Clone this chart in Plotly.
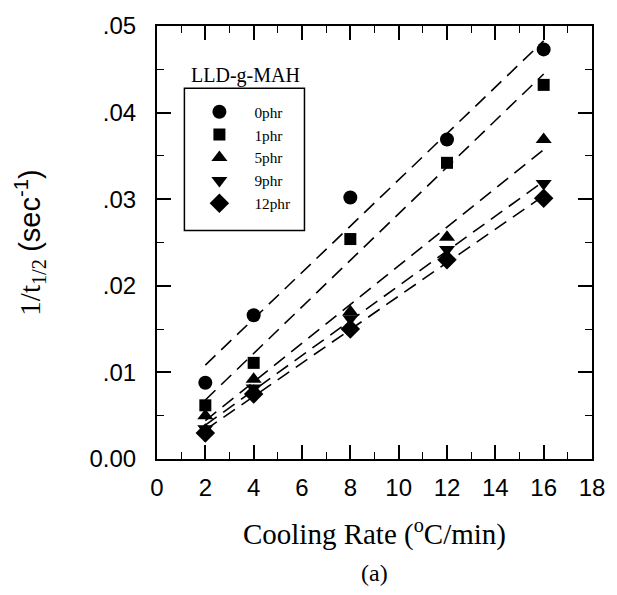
import numpy as np
import plotly.graph_objects as go

# Cooling rate (°C/min) and reciprocal half-time of crystallization (1/s)
cooling_rate = [2, 4, 8, 12, 16]
series_names = ["0phr", "1phr", "5phr", "9phr", "12phr"]
inv_half_time_0phr = [0.0088, 0.0166, 0.0302, 0.0369, 0.0473]
inv_half_time_1phr = [0.0062, 0.0111, 0.0254, 0.0342, 0.0432]
inv_half_time_5phr = [0.0050, 0.0092, 0.0170, 0.0256, 0.0369]
inv_half_time_9phr = [0.0035, 0.0082, 0.0162, 0.0242, 0.0318]
inv_half_time_12phr = [0.0030, 0.0075, 0.0150, 0.0230, 0.0301]
series_values = [inv_half_time_0phr, inv_half_time_1phr, inv_half_time_5phr,
                 inv_half_time_9phr, inv_half_time_12phr]
symbols = ["circle", "square", "triangle-up", "triangle-down", "diamond"]
marker_sizes = [14, 12, 14, 14, 15]

x_ticks = list(range(0, 19, 2))
y_ticks = [0.0, 0.01, 0.02, 0.03, 0.04, 0.05]
y_tick_labels = ["0.00", ".01", ".02", ".03", ".04", ".05"]

SERIF = "Liberation Serif"
SANS = "Liberation Sans"

fig = go.Figure()

# Linear fits drawn as dashed lines across the measured range
for vals in series_values:
    slope, intercept = np.polyfit(cooling_rate, vals, 1)
    xs = np.array([cooling_rate[0], cooling_rate[-1]], dtype=float)
    fig.add_trace(go.Scatter(
        x=xs, y=slope * xs + intercept, mode="lines",
        line=dict(color="black", width=1.6, dash="14px,8px"),
        showlegend=False, hoverinfo="skip"))

for name, vals, sym, size in zip(series_names, series_values, symbols, marker_sizes):
    fig.add_trace(go.Scatter(
        x=cooling_rate, y=vals, mode="markers", name=name,
        marker=dict(symbol=sym, size=size, color="black")))

axis_common = dict(
    showline=True, linecolor="black", linewidth=2, mirror="ticks",
    ticks="inside", ticklen=14, tickwidth=1.5, tickcolor="black",
    showgrid=False, zeroline=False,
    tickfont=dict(family=SANS, size=24, color="black"),
)

fig.update_xaxes(
    range=[0, 18], tickvals=x_ticks, ticklabelstandoff=6,
    minor=dict(dtick=1, ticks="inside", ticklen=7, tickwidth=1.2, tickcolor="black"),
    **axis_common)
fig.update_xaxes(
    title_text="Cooling Rate (<sup>o</sup>C/min)",
    title_font=dict(family=SERIF, size=29, color="black"),
    title_standoff=24)

fig.update_yaxes(
    range=[0, 0.05], tickvals=y_ticks, ticktext=y_tick_labels, ticklabelstandoff=14,
    minor=dict(dtick=0.005, ticks="inside", ticklen=7, tickwidth=1.2, tickcolor="black"),
    **axis_common)
fig.update_yaxes(
    title_text=("<span style=\"font-family:'Liberation Serif'\">1/t<sub>1/2</sub></span> "
                "<span style=\"font-family:'Liberation Sans'\">(sec<sup>-1</sup>)</span>"),
    title_font=dict(family=SERIF, size=29, color="black"),
    title_standoff=40)

# Legend frame and heading
fig.add_shape(type="rect", xref="paper", yref="paper",
              x0=0.063, x1=0.339, y0=0.528, y1=0.856,
              line=dict(color="black", width=1.5), fillcolor="white", layer="below")
fig.add_annotation(
    text="LLD-g-MAH", xref="paper", yref="paper", x=0.204, y=0.885,
    xanchor="center", yanchor="middle", showarrow=False,
    font=dict(family=SERIF, size=20, color="black"))

fig.add_annotation(
    text="(a)", xref="paper", yref="paper", x=0.5, y=-0.2636,
    xanchor="center", yanchor="middle", showarrow=False,
    font=dict(family=SERIF, size=24, color="black"))

fig.update_layout(
    width=617, height=595,
    margin=dict(l=157, r=15, t=20, b=136),
    paper_bgcolor="white", plot_bgcolor="white",
    legend=dict(
        x=0.063, y=0.84, xanchor="left", yanchor="top",
        borderwidth=0, bgcolor="rgba(0,0,0,0)",
        font=dict(family=SERIF, size=15.3, color="black"),
        itemwidth=60, tracegroupgap=0),
)

fig.write_html("out.html")
